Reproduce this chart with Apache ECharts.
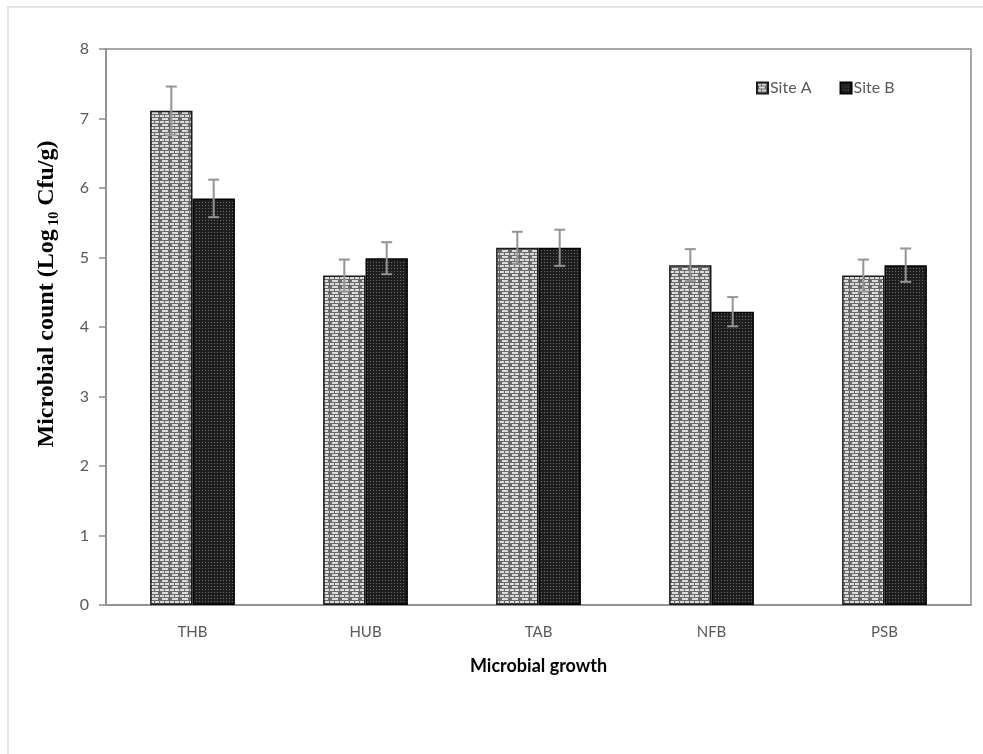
<!DOCTYPE html>
<html>
<head>
<meta charset="utf-8">
<script src="https://cdn.jsdelivr.net/npm/echarts@6/dist/echarts.min.js"></script>
<style>
html,body{margin:0;padding:0;background:#fff;}
#chart{width:983px;height:754px;}
</style>
</head>
<body>
<div id="chart"></div>
<script>
var categories = ['THB', 'HUB', 'TAB', 'NFB', 'PSB'];
var siteA = [7.11, 4.74, 5.14, 4.89, 4.74];
var siteB = [5.85, 4.99, 5.14, 4.22, 4.89];
var errA = [0.35, 0.23, 0.23, 0.23, 0.23];
var errB = [0.27, 0.23, 0.26, 0.21, 0.24];
var yTicks = [0, 1, 2, 3, 4, 5, 6, 7, 8];

function brickPattern() {
  var c = document.createElement('canvas');
  c.width = 10; c.height = 6;
  var g = c.getContext('2d');
  g.fillStyle = '#6a6a6a';
  g.fillRect(0, 0, 10, 6);
  g.fillStyle = '#dcdcdc';
  g.fillRect(0, 1, 4, 2);
  g.fillRect(5, 1, 4, 2);
  g.fillRect(2, 4, 6, 2);
  return c;
}
function dotPattern() {
  var c = document.createElement('canvas');
  c.width = 3; c.height = 3;
  var g = c.getContext('2d');
  g.fillStyle = '#1e1e1e';
  g.fillRect(0, 0, 3, 3);
  g.fillStyle = '#6a6a6a';
  g.fillRect(1, 1, 1, 1);
  return c;
}
var patA = {image: brickPattern(), repeat: 'repeat'};
var patB = {image: dotPattern(), repeat: 'repeat'};

var CAT_GAP = 0.51;
function errRender(sign) {
  return function (params, api) {
    var idx = api.value(0);
    var val = api.value(1);
    var e = api.value(2);
    var band = api.size([1, 0])[0];
    var barW = band * (1 - CAT_GAP) / 2;
    var off = sign * barW / 2;
    var top = api.coord([idx, val + e]);
    var bot = api.coord([idx, val - e]);
    var x = top[0] + off;
    var cw = 5.5;
    var st = {stroke: '#949494', lineWidth: 2};
    return {
      type: 'group',
      children: [
        {type: 'line', shape: {x1: x, y1: top[1], x2: x, y2: bot[1]}, style: st},
        {type: 'line', shape: {x1: x - cw, y1: top[1], x2: x + cw, y2: top[1]}, style: st},
        {type: 'line', shape: {x1: x - cw, y1: bot[1], x2: x + cw, y2: bot[1]}, style: st}
      ]
    };
  };
}

var chart = echarts.init(document.getElementById('chart'), null, {renderer: 'canvas'});
chart.setOption({
  backgroundColor: '#fff',
  animation: false,
  graphic: [{
    type: 'rect',
    shape: {x: 8, y: 7, width: 1100, height: 900},
    style: {fill: 'none', stroke: '#e3e3e3', lineWidth: 2},
    silent: true, z: -10
  }, {
    type: 'text',
    x: 47, y: 294,
    rotation: Math.PI / 2,
    style: {
      text: '{a|Microbial count (Log}{s| 10}{a| Cfu/g)}',
      align: 'center', verticalAlign: 'middle',
      rich: {
        a: {fontFamily: 'Liberation Serif', fontWeight: 'bold', fontSize: 24, fill: '#000', lineHeight: 28},
        s: {fontFamily: 'Liberation Serif', fontWeight: 'bold', fontSize: 14, fill: '#000', lineHeight: 28, verticalAlign: 'bottom'}
      }
    },
    silent: true
  }],
  legend: {
    data: ['Site A', 'Site B'],
    left: 751, top: 75,
    itemWidth: 11, itemHeight: 11, itemGap: 28,
    icon: 'rect',
    textStyle: {fontFamily: 'Lato', fontSize: 16, color: '#595959', padding: [0, 0, 0, -3]}
  },
  grid: {
    left: 106, right: 12, top: 49, bottom: 149,
    show: true, borderColor: '#8c8c8c', borderWidth: 1.5, backgroundColor: 'transparent'
  },
  xAxis: {
    type: 'category',
    data: categories,
    axisTick: {show: false},
    axisLine: {lineStyle: {color: '#8c8c8c', width: 1.5}},
    axisLabel: {fontFamily: 'Lato', fontSize: 15, color: '#595959', margin: 20},
    name: 'Microbial growth',
    nameLocation: 'middle',
    nameGap: 52,
    nameTextStyle: {fontFamily: 'Lato', fontWeight: 'bold', fontSize: 18, color: '#000'}
  },
  yAxis: {
    type: 'value',
    min: yTicks[0], max: yTicks[yTicks.length - 1], interval: 1,
    splitLine: {show: false},
    axisLine: {show: true, lineStyle: {color: '#8c8c8c', width: 1.5}},
    axisTick: {show: true, length: 7, lineStyle: {color: '#8c8c8c', width: 1.5}},
    axisLabel: {fontFamily: 'Lato', fontSize: 16, color: '#595959', margin: 17}
  },
  series: [
    {
      name: 'Site A', type: 'bar', data: siteA,
      barGap: '0%', barCategoryGap: (CAT_GAP * 100) + '%',
      itemStyle: {color: patA, borderColor: '#1a1a1a', borderWidth: 1.5},
      z: 2
    },
    {
      name: 'Site B', type: 'bar', data: siteB,
      barGap: '0%', barCategoryGap: (CAT_GAP * 100) + '%',
      itemStyle: {color: patB, borderColor: '#000', borderWidth: 1.5},
      z: 2
    },
    {
      type: 'custom', name: 'errA', z: 5,
      renderItem: errRender(-1),
      data: siteA.map(function (v, i) { return [i, v, errA[i]]; })
    },
    {
      type: 'custom', name: 'errB', z: 5,
      renderItem: errRender(1),
      data: siteB.map(function (v, i) { return [i, v, errB[i]]; })
    }
  ]
});
</script>
</body>
</html>
